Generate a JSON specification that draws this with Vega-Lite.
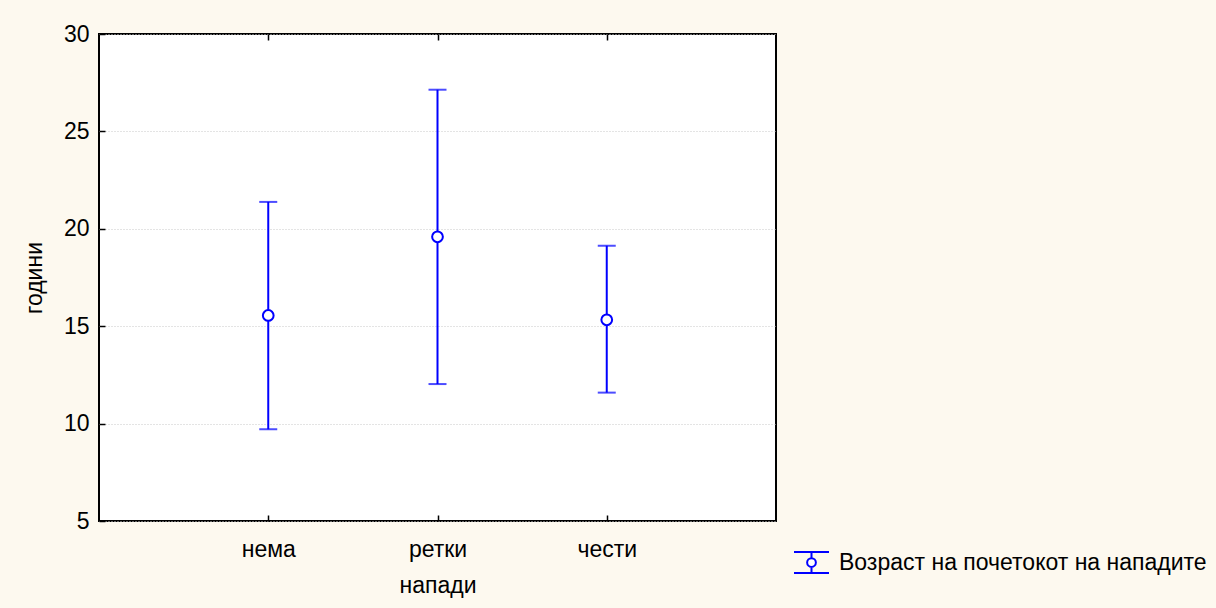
{
  "$schema": "https://vega.github.io/schema/vega-lite/v6.json",
  "width": 677,
  "height": 487,
  "autosize": {"type": "none"},
  "padding": {"left": 99, "top": 34, "right": 440, "bottom": 87},
  "background": "#fdf9ef",
  "config": {
    "font": "Liberation Sans",
    "view": {"fill": "#ffffff", "stroke": "#000000", "strokeWidth": 2},
    "axis": {
      "labelFont": "Liberation Sans",
      "titleFont": "Liberation Sans",
      "labelFontSize": 23,
      "titleFontSize": 23,
      "labelColor": "#000000",
      "titleColor": "#000000",
      "titleFontWeight": "normal",
      "domain": false,
      "tickColor": "#000000",
      "gridColor": "#c8c8c8",
      "gridDash": [1, 2],
      "gridWidth": 1
    }
  },
  "resolve": {"axis": {"x": "independent"}},
  "data": {
    "values": [
      {"napadi": "нема", "mean": 15.55, "lo": 9.71, "hi": 21.38},
      {"napadi": "ретки", "mean": 19.59, "lo": 12.03, "hi": 27.14},
      {"napadi": "чести", "mean": 15.33, "lo": 11.59, "hi": 19.13}
    ]
  },
  "layer": [
    {
      "mark": {"type": "rule", "stroke": "#0000ff", "strokeWidth": 2},
      "encoding": {
        "x": {
          "field": "napadi",
          "type": "nominal",
          "sort": ["нема", "ретки", "чести"],
          "scale": {"type": "point", "padding": 1},
          "axis": {
            "title": "напади",
            "labelAngle": 0,
            "tickSize": -6,
            "tickWidth": 1.5,
            "labelPadding": 23,
            "titlePadding": 13
          }
        },
        "y": {
          "field": "lo",
          "type": "quantitative",
          "scale": {"domain": [5, 30], "nice": false, "zero": false},
          "axis": {
            "title": "години",
            "values": [5, 10, 15, 20, 25, 30],
            "tickSize": -6,
            "tickWidth": 1.5,
            "labelPadding": 16,
            "titlePadding": 17
          }
        },
        "y2": {"field": "hi"}
      }
    },
    {
      "mark": {"type": "tick", "color": "#0000ff", "size": 18, "thickness": 2, "orient": "horizontal"},
      "encoding": {
        "x": {
          "field": "napadi",
          "type": "nominal",
          "sort": ["нема", "ретки", "чести"],
          "scale": {"type": "point", "padding": 1},
          "axis": {
            "orient": "top",
            "title": null,
            "labels": false,
            "grid": false,
            "tickSize": -6,
            "tickWidth": 1.5
          }
        },
        "y": {"field": "lo", "type": "quantitative"}
      }
    },
    {
      "mark": {"type": "tick", "color": "#0000ff", "size": 18, "thickness": 2, "orient": "horizontal"},
      "encoding": {
        "x": {"field": "napadi", "type": "nominal", "sort": ["нема", "ретки", "чести"], "axis": null},
        "y": {"field": "hi", "type": "quantitative"}
      }
    },
    {
      "mark": {"type": "point", "shape": "circle", "filled": false, "fill": "#ffffff", "fillOpacity": 1, "strokeWidth": 2, "size": 115, "opacity": 1},
      "encoding": {
        "x": {"field": "napadi", "type": "nominal", "sort": ["нема", "ретки", "чести"], "axis": null},
        "y": {"field": "mean", "type": "quantitative"},
        "stroke": {
          "datum": "Возраст на почетокот на нападите",
          "type": "nominal",
          "scale": {"range": ["#0000ff"]},
          "legend": {
            "title": null,
            "orient": "none",
            "legendX": 694,
            "legendY": 510,
            "symbolType": "M-1,-0.6H1M-1,0.6H1M0,-0.6V-0.25M0,0.25V0.6M0.25,0A0.25,0.25 0 1,1 -0.25,0A0.25,0.25 0 1,1 0.25,0",
            "symbolSize": 1225,
            "symbolStrokeWidth": 2,
            "symbolStrokeColor": "#0000ff",
            "symbolFillColor": "transparent",
            "labelFont": "Liberation Sans",
            "labelFontSize": 23,
            "labelColor": "#000000",
            "labelOffset": 9,
            "labelLimit": 500
          }
        }
      }
    }
  ]
}
